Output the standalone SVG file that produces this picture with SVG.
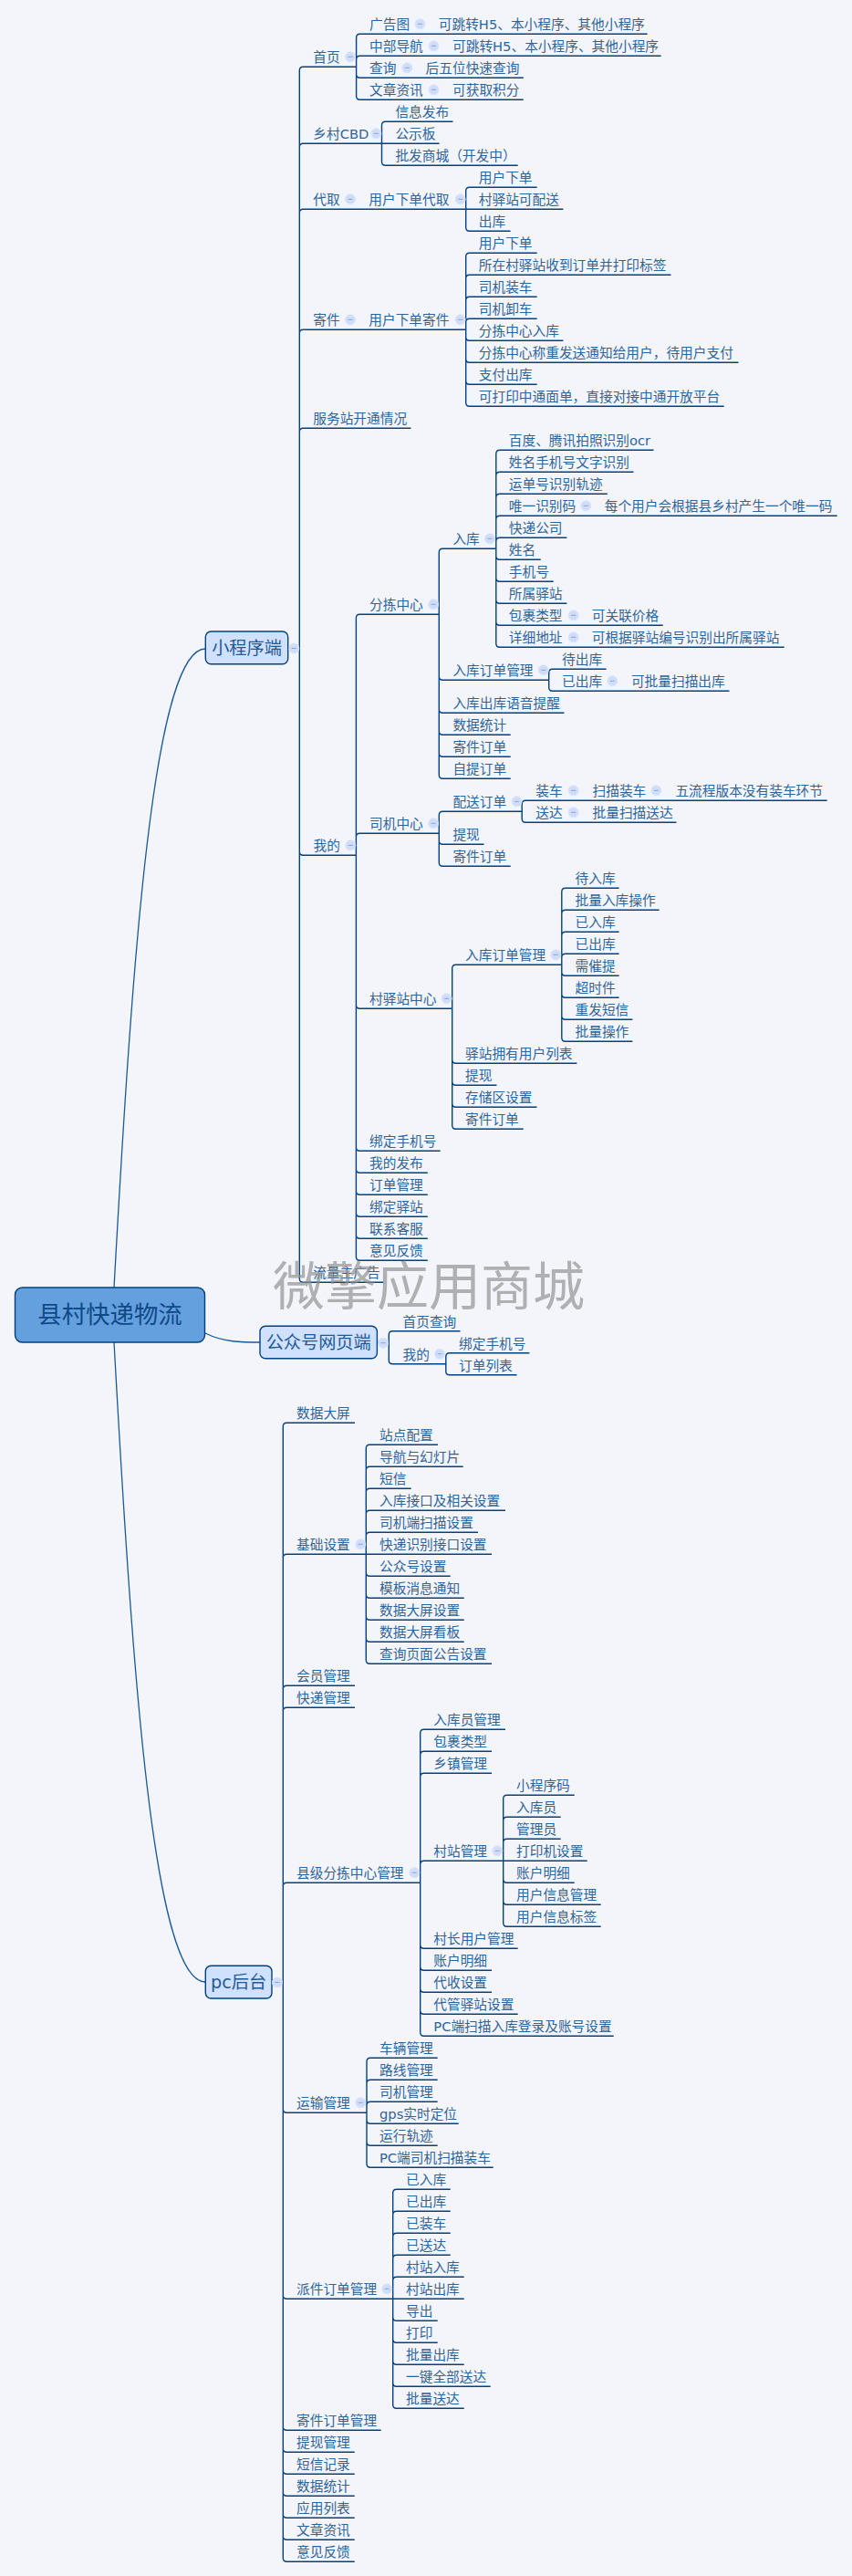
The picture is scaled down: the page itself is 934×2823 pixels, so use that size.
<svg xmlns="http://www.w3.org/2000/svg" width="934" height="2823" viewBox="0 0 934 2823">
<style>
text{font-family:"DejaVu Sans","Noto Sans CJK SC",sans-serif;fill:#2f6499}
.t{font-size:14.7px}
.h{font-size:19.2px;text-anchor:middle;fill:#1f5a94}
.r{font-size:26.4px;text-anchor:middle;fill:#0f4a86}
.w{font-family:"Noto Sans CJK SC",sans-serif;font-size:57px;fill:#8f8f8f;fill-opacity:.68}
.c{fill:none;stroke:#00427f;stroke-width:1.4}
.k{fill:none;stroke:#1a5a96;stroke-width:1.3}
.b{stroke:#00427f;stroke-width:1.4}
</style>
<defs>
<g id="m"><circle r="5.5" fill="#cfdcfa" stroke="#dbe5fa" stroke-width="1"/><path d="M-2.5 0H2.5" stroke="#8ea6c8" stroke-width="1"/></g>
</defs>
<rect width="934" height="2823" fill="#f3f5fb"/>
<g id="connectors">
<path class="k" d="M125 1411C145 1050 168 711 225.3 711M125 1471C145 1832 168 2172 225.3 2172M225 1461C245 1471 265 1471 285 1471"/>
<path class="c" d="M315.7 710H328.3M328.3 77.3V1401.3M328.3 77.3q0-4 4-4H390.6M328.3 161.3q0-4 4-4H418.5M328.3 233.3q0-4 4-4H510.7M328.3 365.3q0-4 4-4H510.7M328.3 473.3q0-4 4-4H450.4M328.3 933.3q0 4 4 4H390.4M328.3 1401.3q0 4 4 4H420.5"/>
<path class="c" d="M390.6 41.3V105.3M390.6 41.3q0-4 4-4H709.6M390.6 65.3q0-4 4-4H724.6M390.6 81.3q0 4 4 4H573.8M390.6 105.3q0 4 4 4H573.8"/>
<path class="c" d="M418.5 137.3V177.3M418.5 137.3q0-4 4-4H496.5M418.5 157.3H481.6M418.5 177.3q0 4 4 4H567.7"/>
<path class="c" d="M510.7 209.3V249.3M510.7 209.3q0-4 4-4H588.7M510.7 229.3H617.4M510.7 249.3q0 4 4 4H559.6"/>
<path class="c" d="M510.7 281.3V441.3M510.7 281.3q0-4 4-4H588.7M510.7 305.3q0-4 4-4H735.5M510.7 329.3q0-4 4-4H588.7M510.7 353.3q0-4 4-4H588.7M510.7 369.3q0 4 4 4H617.4M510.7 393.3q0 4 4 4H809.5M510.7 417.3q0 4 4 4H588.7M510.7 441.3q0 4 4 4H793.7"/>
<path class="c" d="M390.4 677.3V1377.3M390.4 677.3q0-4 4-4H481.3M390.4 917.3q0-4 4-4H481.3M390.4 1101.3q0 4 4 4H495.7M390.4 1257.3q0 4 4 4H482.6M390.4 1281.3q0 4 4 4H468.8M390.4 1305.3q0 4 4 4H468.8M390.4 1329.3q0 4 4 4H468.8M390.4 1353.3q0 4 4 4H468.8M390.4 1377.3q0 4 4 4H468.8"/>
<path class="c" d="M481.3 605.3V849.3M481.3 605.3q0-4 4-4H543.8M481.3 741.3q0 4 4 4H601.7M481.3 777.3q0 4 4 4H618.4M481.3 801.3q0 4 4 4H559.7M481.3 825.3q0 4 4 4H559.7M481.3 849.3q0 4 4 4H559.7"/>
<path class="c" d="M543.8 497.3V705.3M543.8 497.3q0-4 4-4H716.5M543.8 521.3q0-4 4-4H694.5M543.8 545.3q0-4 4-4H665.8M543.8 569.3q0-4 4-4H917.7M543.8 593.3q0-4 4-4H621.4M543.8 609.3q0 4 4 4H592.7M543.8 633.3q0 4 4 4H606.7M543.8 657.3q0 4 4 4H621.4M543.8 681.3q0 4 4 4H726.7M543.8 705.3q0 4 4 4H859.7"/>
<path class="c" d="M601.7 737.3V753.3M601.7 737.3q0-4 4-4H664.6M601.7 753.3q0 4 4 4H799.5"/>
<path class="c" d="M481.3 893.3V945.3M481.3 893.3q0-4 4-4H572.2M481.3 921.3q0 4 4 4H530.5M481.3 945.3q0 4 4 4H559.7"/>
<path class="c" d="M572.2 881.3V897.3M572.2 881.3q0-4 4-4H906.7M572.2 897.3q0 4 4 4H741.5"/>
<path class="c" d="M495.7 1061.3V1233.3M495.7 1061.3q0-4 4-4H615.8M495.7 1161.3q0 4 4 4H632.4M495.7 1185.3q0 4 4 4H544.5M495.7 1209.3q0 4 4 4H588.5M495.7 1233.3q0 4 4 4H573.7"/>
<path class="c" d="M615.8 977.3V1137.3M615.8 977.3q0-4 4-4H678.6M615.8 1001.3q0-4 4-4H722.6M615.8 1025.3q0-4 4-4H678.6M615.8 1049.3q0-4 4-4H678.6M615.8 1065.3q0 4 4 4H678.6M615.8 1089.3q0 4 4 4H678.6M615.8 1113.3q0 4 4 4H693.4M615.8 1137.3q0 4 4 4H693.4"/>
<path class="c" d="M413.4 1471H426.3M426.3 1462.7V1490.7M426.3 1462.7q0-4 4-4H504.5M426.3 1490.7q0 4 4 4H488.8M488.8 1486.7V1502.7M488.8 1486.7q0-4 4-4H580.4M488.8 1502.7q0 4 4 4H566.5"/>
<path class="c" d="M298 2172H310.3M310.3 1563.3V2803.3M310.3 1563.3q0-4 4-4H389M310.3 1707.3q0-4 4-4H401.3M310.3 1851.3q0-4 4-4H389M310.3 1875.3q0-4 4-4H389M310.3 2067.3q0-4 4-4H460.7M310.3 2311.3q0 4 4 4H402M310.3 2515.3q0 4 4 4H430.7M310.3 2659.3q0 4 4 4H417.7M310.3 2683.3q0 4 4 4H388.7M310.3 2707.3q0 4 4 4H388.7M310.3 2731.3q0 4 4 4H388.7M310.3 2755.3q0 4 4 4H388.7M310.3 2779.3q0 4 4 4H388.7M310.3 2803.3q0 4 4 4H388.7"/>
<path class="c" d="M401.3 1587.3V1819.3M401.3 1587.3q0-4 4-4H480M401.3 1611.3q0-4 4-4H507.7M401.3 1635.3q0-4 4-4H450.7M401.3 1659.3q0-4 4-4H554M401.3 1683.3q0-4 4-4H524M401.3 1703.3H539M401.3 1723.3q0 4 4 4H493.7M401.3 1747.3q0 4 4 4H508.7M401.3 1771.3q0 4 4 4H508.7M401.3 1795.3q0 4 4 4H508.7M401.3 1819.3q0 4 4 4H539"/>
<path class="c" d="M460.7 1899.3V2227.3M460.7 1899.3q0-4 4-4H554M460.7 1923.3q0-4 4-4H539M460.7 1947.3q0-4 4-4H539M460.7 2043.3q0-4 4-4H551.7M460.7 2131.3q0 4 4 4H567.7M460.7 2155.3q0 4 4 4H539M460.7 2179.3q0 4 4 4H539M460.7 2203.3q0 4 4 4H567.7M460.7 2227.3q0 4 4 4H672.7"/>
<path class="c" d="M551.7 1971.3V2107.3M551.7 1971.3q0-4 4-4H629.7M551.7 1995.3q0-4 4-4H614.7M551.7 2019.3q0-4 4-4H614.7M551.7 2039.3H643.7M551.7 2059.3q0 4 4 4H629.7M551.7 2083.3q0 4 4 4H658.7M551.7 2107.3q0 4 4 4H658.7"/>
<path class="c" d="M402 2259.3V2371.3M402 2259.3q0-4 4-4H479.7M402 2283.3q0-4 4-4H479.7M402 2307.3q0-4 4-4H479.7M402 2323.3q0 4 4 4H502.7M402 2347.3q0 4 4 4H479.7M402 2371.3q0 4 4 4H540.7"/>
<path class="c" d="M430.7 2403.3V2635.3M430.7 2403.3q0-4 4-4H493.7M430.7 2427.3q0-4 4-4H493.7M430.7 2451.3q0-4 4-4H493.7M430.7 2475.3q0-4 4-4H493.7M430.7 2499.3q0-4 4-4H508.7M430.7 2519.3H508.7M430.7 2539.3q0 4 4 4H479.7M430.7 2563.3q0 4 4 4H479.7M430.7 2587.3q0 4 4 4H508.7M430.7 2611.3q0 4 4 4H537.7M430.7 2635.3q0 4 4 4H508.7"/>
</g>
<g id="root"><rect class="b" x="16.5" y="1411" width="208" height="60" rx="8" fill="#649fde"/><text class="r" x="120.5" y="1450">县村快递物流</text></g>
<g id="miniapp"><rect class="b" x="225.3" y="692" width="90.4" height="35.7" rx="6" fill="#d0e0ff"/><text class="h" x="270.5" y="717">小程序端</text><use href="#m" x="322.3" y="710.5"/></g>
<g id="wechat"><rect class="b" x="285" y="1453.3" width="128.4" height="35.4" rx="6" fill="#d0e0ff"/><text class="h" x="349.2" y="1478">公众号网页端</text><use href="#m" x="420" y="1471.7"/></g>
<g id="pc"><rect class="b" x="225.3" y="2154.3" width="72.7" height="35.7" rx="6" fill="#d0e0ff"/><text class="h" x="261.6" y="2179">pc后台</text><use href="#m" x="304" y="2172.5"/></g>

<g id="a1"><text class="t" x="343.3" y="68.3">首页</text><use href="#m" x="384" y="62.3"/></g>
<g id="a11"><text class="t" x="405" y="32.3">广告图</text><use href="#m" x="460.5" y="26.3"/><text class="t" x="480.8" y="32.3">可跳转H5、本小程序、其他小程序</text></g>
<g id="a12"><text class="t" x="405" y="56.3">中部导航</text><use href="#m" x="475.5" y="50.3"/><text class="t" x="496" y="56.3">可跳转H5、本小程序、其他小程序</text></g>
<g id="a13"><text class="t" x="405" y="80.3">查询</text><use href="#m" x="446.4" y="74.3"/><text class="t" x="466.6" y="80.3">后五位快速查询</text></g>
<g id="a14"><text class="t" x="405" y="104.3">文章资讯</text><use href="#m" x="475.5" y="98.3"/><text class="t" x="496" y="104.3">可获取积分</text></g>
<g id="a2"><text class="t" x="343.3" y="152.3">乡村CBD</text><use href="#m" x="412.4" y="146.3"/></g>
<g id="a21"><text class="t" x="433.4" y="128.3">信息发布</text></g>
<g id="a22"><text class="t" x="433.4" y="152.3">公示板</text></g>
<g id="a23"><text class="t" x="433.4" y="176.3">批发商城（开发中）</text></g>
<g id="a3"><text class="t" x="343.3" y="224.3">代取</text><use href="#m" x="384" y="218.3"/><text class="t" x="404.3" y="224.3">用户下单代取</text><use href="#m" x="504.6" y="218.3"/></g>
<g id="a31"><text class="t" x="524.8" y="200.3">用户下单</text></g>
<g id="a32"><text class="t" x="524.8" y="224.3">村驿站可配送</text></g>
<g id="a33"><text class="t" x="524.8" y="248.3">出库</text></g>
<g id="a4"><text class="t" x="343.3" y="356.3">寄件</text><use href="#m" x="384" y="350.3"/><text class="t" x="404.3" y="356.3">用户下单寄件</text><use href="#m" x="504.6" y="350.3"/></g>
<g id="a41"><text class="t" x="524.8" y="272.3">用户下单</text></g>
<g id="a42"><text class="t" x="524.8" y="296.3">所在村驿站收到订单并打印标签</text></g>
<g id="a43"><text class="t" x="524.8" y="320.3">司机装车</text></g>
<g id="a44"><text class="t" x="524.8" y="344.3">司机卸车</text></g>
<g id="a45"><text class="t" x="524.8" y="368.3">分拣中心入库</text></g>
<g id="a46"><text class="t" x="524.8" y="392.3">分拣中心称重发送通知给用户，待用户支付</text></g>
<g id="a47"><text class="t" x="524.8" y="416.3">支付出库</text></g>
<g id="a48"><text class="t" x="524.8" y="440.3">可打印中通面单，直接对接中通开放平台</text></g>
<g id="a5"><text class="t" x="343.3" y="464.3">服务站开通情况</text></g>
<g id="a6"><text class="t" x="343.5" y="932.3">我的</text><use href="#m" x="384.3" y="926.3"/></g>
<g id="b1"><text class="t" x="405" y="668.3">分拣中心</text><use href="#m" x="475.2" y="662.3"/></g>
<g id="b11"><text class="t" x="496.4" y="596.3">入库</text><use href="#m" x="537" y="590.3"/></g>
<g id="b111"><text class="t" x="557.8" y="488.3">百度、腾讯拍照识别ocr</text></g>
<g id="b112"><text class="t" x="557.8" y="512.3">姓名手机号文字识别</text></g>
<g id="b113"><text class="t" x="557.8" y="536.3">运单号识别轨迹</text></g>
<g id="b114"><text class="t" x="557.8" y="560.3">唯一识别码</text><use href="#m" x="642.3" y="554.3"/><text class="t" x="662.7" y="560.3">每个用户会根据县乡村产生一个唯一码</text></g>
<g id="b115"><text class="t" x="557.8" y="584.3">快递公司</text></g>
<g id="b116"><text class="t" x="557.8" y="608.3">姓名</text></g>
<g id="b117"><text class="t" x="557.8" y="632.3">手机号</text></g>
<g id="b118"><text class="t" x="557.8" y="656.3">所属驿站</text></g>
<g id="b119"><text class="t" x="557.8" y="680.3">包裹类型</text><use href="#m" x="628.6" y="674.3"/><text class="t" x="648.7" y="680.3">可关联价格</text></g>
<g id="b1110"><text class="t" x="557.8" y="704.3">详细地址</text><use href="#m" x="628.6" y="698.3"/><text class="t" x="648.7" y="704.3">可根据驿站编号识别出所属驿站</text></g>
<g id="b12"><text class="t" x="496.4" y="740.3">入库订单管理</text><use href="#m" x="595.7" y="734.3"/></g>
<g id="b121"><text class="t" x="616.1" y="728.3">待出库</text></g>
<g id="b122"><text class="t" x="616.1" y="752.3">已出库</text><use href="#m" x="671.4" y="746.3"/><text class="t" x="691.9" y="752.3">可批量扫描出库</text></g>
<g id="b13"><text class="t" x="496.4" y="776.3">入库出库语音提醒</text></g>
<g id="b14"><text class="t" x="496.4" y="800.3">数据统计</text></g>
<g id="b15"><text class="t" x="496.4" y="824.3">寄件订单</text></g>
<g id="b16"><text class="t" x="496.4" y="848.3">自提订单</text></g>
<g id="b2"><text class="t" x="405" y="908.3">司机中心</text><use href="#m" x="475.2" y="902.3"/></g>
<g id="b21"><text class="t" x="496.4" y="884.3">配送订单</text><use href="#m" x="566.5" y="878.3"/></g>
<g id="b211"><text class="t" x="587.3" y="872.3">装车</text><use href="#m" x="628.6" y="866.3"/><text class="t" x="649.5" y="872.3">扫描装车</text><use href="#m" x="719.5" y="866.3"/><text class="t" x="740.4" y="872.3">五流程版本没有装车环节</text></g>
<g id="b212"><text class="t" x="587.3" y="896.3">送达</text><use href="#m" x="628.6" y="890.3"/><text class="t" x="649.5" y="896.3">批量扫描送达</text></g>
<g id="b22"><text class="t" x="496.4" y="920.3">提现</text></g>
<g id="b23"><text class="t" x="496.4" y="944.3">寄件订单</text></g>
<g id="b3"><text class="t" x="405" y="1100.3">村驿站中心</text><use href="#m" x="489.6" y="1094.3"/></g>
<g id="b31"><text class="t" x="510" y="1052.3">入库订单管理</text><use href="#m" x="609.3" y="1046.3"/></g>
<g id="b311"><text class="t" x="630.5" y="968.3">待入库</text></g>
<g id="b312"><text class="t" x="630.5" y="992.3">批量入库操作</text></g>
<g id="b313"><text class="t" x="630.5" y="1016.3">已入库</text></g>
<g id="b314"><text class="t" x="630.5" y="1040.3">已出库</text></g>
<g id="b315"><text class="t" x="630.5" y="1064.3">需催提</text></g>
<g id="b316"><text class="t" x="630.5" y="1088.3">超时件</text></g>
<g id="b317"><text class="t" x="630.5" y="1112.3">重发短信</text></g>
<g id="b318"><text class="t" x="630.5" y="1136.3">批量操作</text></g>
<g id="b32"><text class="t" x="510" y="1160.3">驿站拥有用户列表</text></g>
<g id="b33"><text class="t" x="510" y="1184.3">提现</text></g>
<g id="b34"><text class="t" x="510" y="1208.3">存储区设置</text></g>
<g id="b35"><text class="t" x="510" y="1232.3">寄件订单</text></g>
<g id="b4"><text class="t" x="405" y="1256.3">绑定手机号</text></g>
<g id="b5"><text class="t" x="405" y="1280.3">我的发布</text></g>
<g id="b6"><text class="t" x="405" y="1304.3">订单管理</text></g>
<g id="b7"><text class="t" x="405" y="1328.3">绑定驿站</text></g>
<g id="b8"><text class="t" x="405" y="1352.3">联系客服</text></g>
<g id="b9"><text class="t" x="405" y="1376.3">意见反馈</text></g>
<g id="a7"><text class="t" x="343.3" y="1400.3">流量主广告</text></g>

<g id="w1"><text class="t" x="441.5" y="1453.7">首页查询</text></g>
<g id="w2"><text class="t" x="441.5" y="1489.7">我的</text><use href="#m" x="482" y="1483.7"/></g>
<g id="w21"><text class="t" x="503" y="1477.7">绑定手机号</text></g>
<g id="w22"><text class="t" x="503" y="1501.7">订单列表</text></g>

<g id="p1"><text class="t" x="325" y="1554.3">数据大屏</text></g>
<g id="p2"><text class="t" x="325" y="1698.3">基础设置</text><use href="#m" x="395.3" y="1692.3"/></g>
<g id="p21"><text class="t" x="416" y="1578.3">站点配置</text></g>
<g id="p22"><text class="t" x="416" y="1602.3">导航与幻灯片</text></g>
<g id="p23"><text class="t" x="416" y="1626.3">短信</text></g>
<g id="p24"><text class="t" x="416" y="1650.3">入库接口及相关设置</text></g>
<g id="p25"><text class="t" x="416" y="1674.3">司机端扫描设置</text></g>
<g id="p26"><text class="t" x="416" y="1698.3">快递识别接口设置</text></g>
<g id="p27"><text class="t" x="416" y="1722.3">公众号设置</text></g>
<g id="p28"><text class="t" x="416" y="1746.3">模板消息通知</text></g>
<g id="p29"><text class="t" x="416" y="1770.3">数据大屏设置</text></g>
<g id="p210"><text class="t" x="416" y="1794.3">数据大屏看板</text></g>
<g id="p211"><text class="t" x="416" y="1818.3">查询页面公告设置</text></g>
<g id="p3"><text class="t" x="325" y="1842.3">会员管理</text></g>
<g id="p4"><text class="t" x="325" y="1866.3">快递管理</text></g>
<g id="p5"><text class="t" x="325" y="2058.3">县级分拣中心管理</text><use href="#m" x="454.3" y="2052.3"/></g>
<g id="p51"><text class="t" x="475.3" y="1890.3">入库员管理</text></g>
<g id="p52"><text class="t" x="475.3" y="1914.3">包裹类型</text></g>
<g id="p53"><text class="t" x="475.3" y="1938.3">乡镇管理</text></g>
<g id="p54"><text class="t" x="475.3" y="2034.3">村站管理</text><use href="#m" x="545.3" y="2028.3"/></g>
<g id="p541"><text class="t" x="566" y="1962.3">小程序码</text></g>
<g id="p542"><text class="t" x="566" y="1986.3">入库员</text></g>
<g id="p543"><text class="t" x="566" y="2010.3">管理员</text></g>
<g id="p544"><text class="t" x="566" y="2034.3">打印机设置</text></g>
<g id="p545"><text class="t" x="566" y="2058.3">账户明细</text></g>
<g id="p546"><text class="t" x="566" y="2082.3">用户信息管理</text></g>
<g id="p547"><text class="t" x="566" y="2106.3">用户信息标签</text></g>
<g id="p55"><text class="t" x="475.3" y="2130.3">村长用户管理</text></g>
<g id="p56"><text class="t" x="475.3" y="2154.3">账户明细</text></g>
<g id="p57"><text class="t" x="475.3" y="2178.3">代收设置</text></g>
<g id="p58"><text class="t" x="475.3" y="2202.3">代管驿站设置</text></g>
<g id="p59"><text class="t" x="475.3" y="2226.3">PC端扫描入库登录及账号设置</text></g>
<g id="p6"><text class="t" x="325" y="2310.3">运输管理</text><use href="#m" x="395.3" y="2304.3"/></g>
<g id="p61"><text class="t" x="416" y="2250.3">车辆管理</text></g>
<g id="p62"><text class="t" x="416" y="2274.3">路线管理</text></g>
<g id="p63"><text class="t" x="416" y="2298.3">司机管理</text></g>
<g id="p64"><text class="t" x="416" y="2322.3">gps实时定位</text></g>
<g id="p65"><text class="t" x="416" y="2346.3">运行轨迹</text></g>
<g id="p66"><text class="t" x="416" y="2370.3">PC端司机扫描装车</text></g>
<g id="p7"><text class="t" x="325" y="2514.3">派件订单管理</text><use href="#m" x="424.3" y="2508.3"/></g>
<g id="p71"><text class="t" x="445" y="2394.3">已入库</text></g>
<g id="p72"><text class="t" x="445" y="2418.3">已出库</text></g>
<g id="p73"><text class="t" x="445" y="2442.3">已装车</text></g>
<g id="p74"><text class="t" x="445" y="2466.3">已送达</text></g>
<g id="p75"><text class="t" x="445" y="2490.3">村站入库</text></g>
<g id="p76"><text class="t" x="445" y="2514.3">村站出库</text></g>
<g id="p77"><text class="t" x="445" y="2538.3">导出</text></g>
<g id="p78"><text class="t" x="445" y="2562.3">打印</text></g>
<g id="p79"><text class="t" x="445" y="2586.3">批量出库</text></g>
<g id="p710"><text class="t" x="445" y="2610.3">一键全部送达</text></g>
<g id="p711"><text class="t" x="445" y="2634.3">批量送达</text></g>
<g id="p8"><text class="t" x="325" y="2658.3">寄件订单管理</text></g>
<g id="p9"><text class="t" x="325" y="2682.3">提现管理</text></g>
<g id="p10"><text class="t" x="325" y="2706.3">短信记录</text></g>
<g id="p11"><text class="t" x="325" y="2730.3">数据统计</text></g>
<g id="p12"><text class="t" x="325" y="2754.3">应用列表</text></g>
<g id="p13"><text class="t" x="325" y="2778.3">文章资讯</text></g>
<g id="p14"><text class="t" x="325" y="2802.3">意见反馈</text></g>
<text class="w" x="299" y="1430">微擎应用商城</text>
</svg>
